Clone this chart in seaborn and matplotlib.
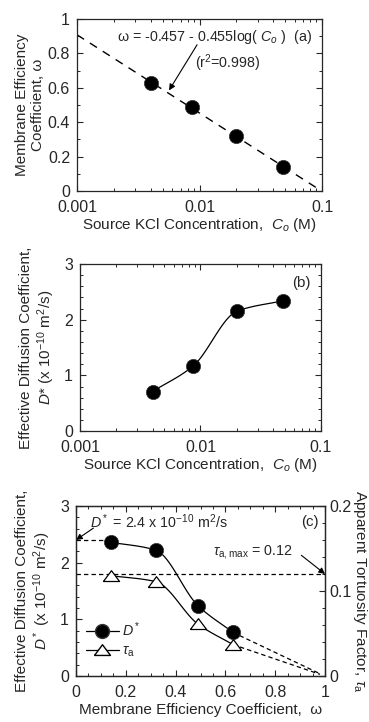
import numpy as np
import matplotlib
matplotlib.use("Agg")
import matplotlib.pyplot as plt
import seaborn as sns
import pandas as pd
from matplotlib.ticker import MultipleLocator, FuncFormatter, NullFormatter
from matplotlib.lines import Line2D

# values
conc = [0.004, 0.0087, 0.020, 0.048]        # source KCl concentration (M)
omega = [0.63, 0.49, 0.32, 0.14]            # membrane efficiency coefficient
dstar_b = [0.71, 1.17, 2.15, 2.34]          # D* (x 1e-10 m2/s), panel b
fit_a, fit_b = -0.457, -0.455               # omega = a + b*log(Co)
fit_range = [0.001, 0.1]

omega_c = [0.14, 0.32, 0.49, 0.63]
dstar_c = [2.36, 2.22, 1.24, 0.77]
tau_c = [0.118, 0.111, 0.061, 0.037]
omega_end = 0.98                            # end of dashed extrapolation
dstar_end = 0.04
tau_end = 0.002
dstar_max = 2.4
tau_max = 0.12

sns.set_style("ticks")
plt.rcParams['font.family'] = ['Liberation Sans', 'DejaVu Sans']
plt.rcParams['mathtext.fontset'] = 'custom'
plt.rcParams['mathtext.rm'] = 'Liberation Sans'
plt.rcParams['mathtext.it'] = 'Liberation Sans:italic'
plt.rcParams['axes.linewidth'] = 0.9

TICK = 11.5
LAB = 11
ANN = 10.3


def pchip(x, y, n=120):
    # smooth monotone curve through the points (like a "smoothed line")
    x = np.asarray(x, float)
    y = np.asarray(y, float)
    h = np.diff(x)
    d = np.diff(y) / h
    m = np.zeros_like(y)
    for k in range(1, len(x) - 1):
        if d[k - 1] * d[k] > 0:
            w1 = 2 * h[k] + h[k - 1]
            w2 = h[k] + 2 * h[k - 1]
            m[k] = (w1 + w2) / (w1 / d[k - 1] + w2 / d[k])
    m[0] = d[0]
    m[-1] = d[-1]
    xs = np.linspace(x[0], x[-1], n)
    i = np.clip(np.searchsorted(x, xs) - 1, 0, len(h) - 1)
    t = (xs - x[i]) / h[i]
    ys = ((2 * t**3 - 3 * t**2 + 1) * y[i] + (t**3 - 2 * t**2 + t) * h[i] * m[i]
          + (-2 * t**3 + 3 * t**2) * y[i + 1] + (t**3 - t**2) * h[i] * m[i + 1])
    return xs, ys


def style_ticks(ax, top=True, right=True):
    ax.tick_params(which='both', direction='in', top=top, right=right, labelsize=TICK)
    ax.tick_params(axis='x', pad=6.5)
    ax.tick_params(axis='y', pad=5)
    ax.tick_params(which='major', length=4.5, width=0.8)
    ax.tick_params(which='minor', length=2.5, width=0.7)


gfmt = FuncFormatter(lambda v, p: f"{v:g}")
tri = [(-1, -0.62), (1, -0.62), (0, 0.72), (-1, -0.62)]
arrow = dict(arrowstyle='-|>', color='black', lw=0.8, mutation_scale=9,
             shrinkA=0, shrinkB=0)

fig = plt.figure(figsize=(3.69, 7.22), dpi=100)
ax1 = fig.add_axes([0.2087, 0.7355, 0.664, 0.2382])
ax2 = fig.add_axes([0.2168, 0.4030, 0.653, 0.2313])
ax3 = fig.add_axes([0.2060, 0.0637, 0.6748, 0.2355])

# ---- (a)
df_a = pd.DataFrame({'conc': conc, 'omega': omega})
cfit = np.logspace(np.log10(fit_range[0]), np.log10(fit_range[1]), 50)
ax1.plot(cfit, fit_a + fit_b * np.log10(cfit), color='black', lw=1.0, dashes=(6, 5))
sns.scatterplot(data=df_a, x='conc', y='omega', ax=ax1, s=105, color='black',
                edgecolor='#333333', linewidth=0.5, zorder=3)
ax1.set_xscale('log')
ax1.set_xlim(0.001, 0.1)
ax1.set_ylim(0, 1)
ax1.yaxis.set_major_locator(MultipleLocator(0.2))
ax1.yaxis.set_minor_locator(MultipleLocator(0.1))
ax1.yaxis.set_major_formatter(gfmt)
ax1.xaxis.set_major_formatter(gfmt)
ax1.xaxis.set_minor_formatter(NullFormatter())
style_ticks(ax1)
ax1.set_xlabel("Source KCl Concentration,  $C_o$ (M)", fontsize=LAB, labelpad=1)
ax1.set_ylabel("Membrane Efficiency\nCoefficient, ω", fontsize=LAB, labelpad=2)
ax1.text(0.96, 0.895, "ω = -0.457 - 0.455log( $C_o$ )  (a)", transform=ax1.transAxes,
         ha='right', va='center', fontsize=ANN)
ax1.text(0.616, 0.744, "(r$^2$=0.998)", transform=ax1.transAxes,
         ha='center', va='center', fontsize=ANN)
ax1.annotate("", xy=(0.00564, 0.585), xytext=(0.49, 0.85),
             textcoords=ax1.transAxes, arrowprops=arrow)

# ---- (b)
df_b = pd.DataFrame({'conc': conc, 'dstar': dstar_b})
lx, ly = pchip(np.log10(conc), dstar_b)
ax2.plot(10**lx, ly, color='black', lw=0.9)
sns.scatterplot(data=df_b, x='conc', y='dstar', ax=ax2, s=105, color='black',
                edgecolor='#333333', linewidth=0.5, zorder=3)
ax2.set_xscale('log')
ax2.set_xlim(0.001, 0.1)
ax2.set_ylim(0, 3)
ax2.yaxis.set_major_locator(MultipleLocator(1))
ax2.yaxis.set_minor_locator(MultipleLocator(0.2))
ax2.yaxis.set_major_formatter(gfmt)
ax2.xaxis.set_major_formatter(gfmt)
ax2.xaxis.set_minor_formatter(NullFormatter())
style_ticks(ax2)
ax2.set_xlabel("Source KCl Concentration,  $C_o$ (M)", fontsize=LAB, labelpad=1)
ax2.set_ylabel("Effective Diffusion Coefficient,\n$D$* (x 10$^{-10}$ m$^2$/s)",
               fontsize=LAB, labelpad=5)
ax2.text(0.92, 0.886, "(b)", transform=ax2.transAxes, ha='center', va='center',
         fontsize=ANN + 0.5)

# ---- (c)
ax3r = ax3.twinx()
df_c = pd.DataFrame({'omega': omega_c, 'dstar': dstar_c, 'tau': tau_c})
cx, cy = pchip(omega_c, dstar_c)
ax3.plot(cx, cy, color='black', lw=0.9)
ax3.plot([omega_c[-1], omega_end], [dstar_c[-1], dstar_end], color='black',
         lw=0.9, dashes=(3.5, 2.5))
ax3.plot([0, omega_c[0]], [dstar_max, dstar_max], color='black', lw=0.9, dashes=(3.5, 2.5))
sns.scatterplot(data=df_c, x='omega', y='dstar', ax=ax3, s=105, color='black',
                edgecolor='#333333', linewidth=0.5, zorder=3)

tx, ty = pchip(omega_c, tau_c)
ax3r.plot(tx, ty, color='black', lw=0.9)
ax3r.plot([omega_c[-1], omega_end], [tau_c[-1], tau_end], color='black',
          lw=0.9, dashes=(3.5, 2.5))
ax3r.axhline(tau_max, color='black', lw=0.9, dashes=(3.5, 2.5))
sns.scatterplot(data=df_c, x='omega', y='tau', ax=ax3r, s=135, marker=tri,
                facecolor='white', edgecolor='black', linewidth=0.9, zorder=3)

ax3.set_xlim(0, 1)
ax3.set_ylim(0, 3)
ax3r.set_ylim(0, 0.2)
ax3.xaxis.set_major_locator(MultipleLocator(0.2))
ax3.xaxis.set_minor_locator(MultipleLocator(0.05))
ax3.yaxis.set_major_locator(MultipleLocator(1))
ax3.yaxis.set_minor_locator(MultipleLocator(0.2))
ax3r.yaxis.set_major_locator(MultipleLocator(0.1))
ax3r.yaxis.set_minor_locator(MultipleLocator(0.02))
for a in (ax3.xaxis, ax3.yaxis, ax3r.yaxis):
    a.set_major_formatter(gfmt)
style_ticks(ax3, top=True, right=False)
style_ticks(ax3r, top=False, right=True)
ax3r.tick_params(axis='y', pad=3)
ax3.set_xlabel("Membrane Efficiency Coefficient,  ω", fontsize=LAB, labelpad=2)
ax3.set_ylabel("Effective Diffusion Coefficient,\n$D^*$ (x 10$^{-10}$ m$^2$/s)",
               fontsize=LAB, labelpad=5)
ax3r.set_ylabel("Apparent Tortuosity Factor, $\\tau_\\mathrm{a}$", fontsize=LAB,
                rotation=270, labelpad=12.5)
ax3r.set_xlabel("")

ax3.text(0.94, 0.906, "(c)", transform=ax3.transAxes, ha='center', va='center',
         fontsize=ANN + 0.5)
ax3.text(0.058, 0.906, "$D^*$ = 2.4 x 10$^{-10}$ m$^2$/s", transform=ax3.transAxes,
         ha='left', va='center', fontsize=ANN)
ax3.annotate("", xy=(0, dstar_max), xytext=(0.07, 0.87), textcoords=ax3.transAxes,
             arrowprops=arrow)
ax3r.text(0.55, 0.73, "$\\tau_\\mathrm{a,max}$ = 0.12", transform=ax3.transAxes,
          ha='left', va='center', fontsize=ANN)
ax3r.annotate("", xy=(1.0, tau_max), xytext=(0.905, 0.71), textcoords=ax3.transAxes,
              arrowprops=arrow)

handles = [Line2D([], [], color='black', lw=0.9, marker='o', markersize=10,
                  markerfacecolor='black', markeredgecolor='#333333'),
           Line2D([], [], color='black', lw=0.9, marker=tri, markersize=11.5,
                  markerfacecolor='white', markeredgecolor='black')]
ax3.legend(handles, ["$D^*$", "$\\tau_\\mathrm{a}$"], loc='lower left',
           bbox_to_anchor=(0.0, 0.04), frameon=False, fontsize=ANN,
           handlelength=2.3, handletextpad=0.2, labelspacing=0.35, borderaxespad=0.3)

fig.savefig("out.png", dpi=100)
